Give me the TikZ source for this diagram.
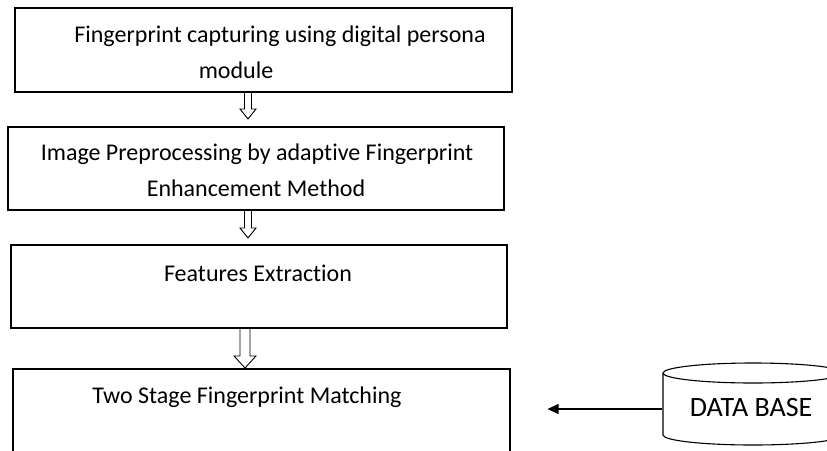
\documentclass[tikz,border=0pt]{standalone}
\usepackage{fontspec}
\setmainfont{Carlito}[Ligatures={NoCommon}]
\usetikzlibrary{calc,arrows.meta}
\tikzset{
  box/.style={draw, line width=1.1pt, rectangle, inner sep=0pt},
  lbl/.style={inner sep=0pt, anchor=base, font=\fontsize{24}{29}\selectfont},
  dblbl/.style={inner sep=0pt, anchor=base, font=\fontsize{28}{32}\selectfont},
  hol/.style={draw, line width=0.9pt, line join=miter},
  conn/.style={draw, line width=1.3pt, -{Triangle[length=11pt,width=10pt]}},
  cyl/.style={draw, line width=1.1pt}
}
\newcommand\holarrow[5]{%
  \draw[hol] let \p1=(#1), \p2=(#2) in
    (\x1-#3pt,\y1) -- (\x1-#3pt,\y2+#5pt) -- (\x1-#4pt,\y2+#5pt) -- (\x1,\y2)
    -- (\x1+#4pt,\y2+#5pt) -- (\x1+#3pt,\y2+#5pt) -- (\x1+#3pt,\y1);}
\begin{document}
\begin{tikzpicture}[x=1pt,y=-1pt]
\useasboundingbox (0,0) rectangle (827,450);
\clip (0,0) rectangle (827,450);
% boxes
\node[box, minimum width=497pt, minimum height=84pt] (b1) at (263.5,50) {};
\node[box, minimum width=496pt, minimum height=83pt] (b2) at (256,168.5) {};
\node[box, minimum width=496pt, minimum height=83pt] (b3) at (259,286.5) {};
\node[box, minimum width=497pt, minimum height=90pt] (b4) at (261.5,414) {};
% texts
\node[lbl] (t1a) at (280,42) {Fingerprint capturing using digital persona};
\node[lbl] (t1b) at (236,78) {module};
\node[lbl] (t2a) at (257,160) {Image Preprocessing by adaptive Fingerprint};
\node[lbl] (t2b) at (256,196) {Enhancement Method};
\node[lbl] (t3) at (258,281) {Features Extraction};
\node[lbl] (t4) at (247,403) {Two Stage Fingerprint Matching};
% database cylinder
\draw[cyl] (663,373) -- (663,435) arc[start angle=180,end angle=360,x radius=90pt,y radius=10pt]
  (843,373) arc[start angle=0,end angle=360,x radius=90pt,y radius=10pt];
\draw[cyl] (843,373) -- (843,435);
\node[inner sep=0pt, minimum width=1pt, minimum height=1pt] (db) at (663,409) {};
\node[dblbl] (tdb) at (751,416) {DATA BASE};
% arrows
\coordinate (a1) at (248,92);
\coordinate (a2) at (248,210);
\coordinate (a3) at (245,328);
\holarrow{a1}{248,119}{3.5}{8}{10}
\holarrow{a2}{248,238}{3.5}{8}{10}
\holarrow{a3}{245,368}{5}{11}{12}
\draw[conn, shorten >=37pt] (db.west) -- (db.west -| b4.east);
\end{tikzpicture}
\end{document}
